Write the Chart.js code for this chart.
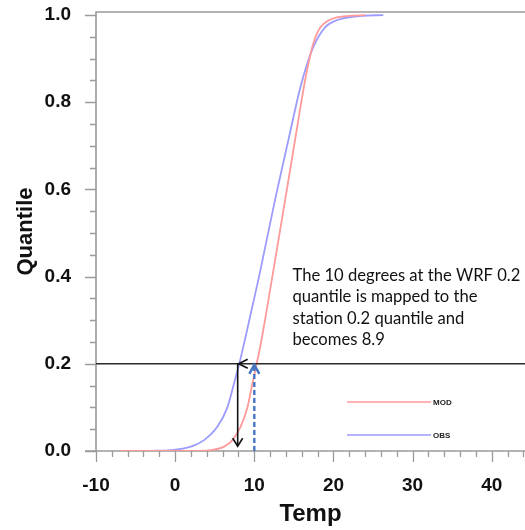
<!DOCTYPE html>
<html><head><meta charset="utf-8">
<script src="https://cdn.jsdelivr.net/npm/chart.js@4.4.0/dist/chart.umd.min.js"></script>
<style>html,body{margin:0;padding:0;background:#fff;overflow:hidden}</style>
</head><body>
<canvas id="c" width="525" height="530"></canvas>
<script>
// ---- data ----
const seriesNames = ['MOD', 'OBS'];
const modTemp     = [-7, 3, 4.5, 6.18, 7.24, 8.28, 9.13, 9.76, 10.3, 10.9, 12.28, 13.96, 15.22, 16.27, 16.8, 17.3, 17.8, 18.4, 19.2, 20.3, 22, 24];
const modQuantile = [0, 0.0005, 0.002, 0.01, 0.025, 0.056, 0.10, 0.155, 0.2, 0.254, 0.4, 0.583, 0.721, 0.836, 0.885, 0.925, 0.953, 0.973, 0.986, 0.994, 0.998, 1.0];
const obsTemp     = [-7, -3, -0.55, 1.98, 3.66, 5.35, 6.6, 7.44, 8.1, 8.8, 10.6, 12.7, 14.4, 15.85, 17.3, 18.2, 19.0, 20.0, 21.1, 23.5, 26.3];
const obsQuantile = [0, 0.0005, 0.002, 0.01, 0.025, 0.056, 0.10, 0.155, 0.2, 0.254, 0.4, 0.583, 0.721, 0.836, 0.92, 0.953, 0.973, 0.985, 0.992, 0.998, 1.0];
const xTickLabels = [-10, 0, 10, 20, 30, 40];
const yTickLabels = [0, 0.2, 0.4, 0.6, 0.8, 1.0];
const wrfValue = 10;        // model temperature being mapped
const stationValue = 7.9;   // where the arrow lands in the picture
const mappedQuantile = 0.2;
const annotationLines = [
  'The 10 degrees at the WRF 0.2',
  'quantile is mapped to the',
  'station 0.2 quantile and',
  'becomes 8.9'
];

const MOD_COLOR = '#ff9a9a';
const OBS_COLOR = '#9c9cff';
const AXIS_GREY = '#9a9a9a';
const FONT = "'Liberation Sans', Arial, Helvetica, sans-serif";

function chevron(ctx, tx, ty, dir, len, half) {
  const [dx, dy] = dir;
  const bx = tx - dx * len, by = ty - dy * len;
  const nx = -dy * half, ny = dx * half;
  ctx.beginPath();
  ctx.moveTo(bx + nx, by + ny);
  ctx.lineTo(tx, ty);
  ctx.lineTo(bx - nx, by - ny);
  ctx.stroke();
}

const frameAndTicks = {
  id: 'frameAndTicks',
  beforeDatasetsDraw(chart) {
    const {ctx, chartArea: a, scales: {x, y}} = chart;
    ctx.save();
    ctx.strokeStyle = AXIS_GREY;
    ctx.lineWidth = 1.6;
    ctx.beginPath();
    ctx.moveTo(a.left, a.bottom); ctx.lineTo(a.left, a.top); ctx.lineTo(a.right + 5, a.top);
    ctx.moveTo(a.left - 11, a.bottom); ctx.lineTo(a.right + 5, a.bottom);
    ctx.stroke();
    ctx.lineWidth = 1.3;
    ctx.beginPath();
    for (let i = 0; i <= 20; i++) {
      const v = i * 0.05;
      const major = i % 4 === 0;
      const py = Math.round(y.getPixelForValue(v)) + 0.5;
      ctx.moveTo(a.left - (major ? 11 : 6), py); ctx.lineTo(a.left, py);
    }
    for (let i = -5; i <= 22; i++) {
      const v = i * 2;
      const major = v % 10 === 0;
      const px = Math.round(x.getPixelForValue(v)) + 0.5;
      if (px > a.right + 2) continue;
      ctx.moveTo(px, a.bottom); ctx.lineTo(px, a.bottom + (major ? 11 : 6));
    }
    ctx.stroke();
    ctx.restore();
  },
  afterDatasetsDraw(chart) {
    const {ctx, chartArea: a, scales: {x, y}} = chart;
    const pxW = x.getPixelForValue(wrfValue);
    const pxS = x.getPixelForValue(stationValue);
    const pyQ = y.getPixelForValue(mappedQuantile);
    const py0 = y.getPixelForValue(0);
    ctx.save();
    ctx.strokeStyle = '#2a2a2a';
    ctx.lineWidth = 1.6;
    ctx.beginPath(); ctx.moveTo(a.left, pyQ); ctx.lineTo(a.right + 5, pyQ); ctx.stroke();
    ctx.strokeStyle = '#4676c2';
    ctx.lineWidth = 2.4;
    ctx.setLineDash([5, 3]);
    ctx.beginPath(); ctx.moveTo(pxW, py0); ctx.lineTo(pxW, pyQ + 3); ctx.stroke();
    ctx.setLineDash([]);
    chevron(ctx, pxW, pyQ + 1, [0, -1], 9, 5);
    ctx.strokeStyle = '#111';
    ctx.lineWidth = 1.6;
    chevron(ctx, pxS + 1, pyQ, [-1, 0], 9, 4.5);
    ctx.beginPath(); ctx.moveTo(pxS, pyQ); ctx.lineTo(pxS, y.getPixelForValue(0.011)); ctx.stroke();
    chevron(ctx, pxS, y.getPixelForValue(0.011), [0, 1], 8, 5);

    const leg = [[MOD_COLOR, seriesNames[0], 402], [OBS_COLOR, seriesNames[1], 435]];
    ctx.lineWidth = 1.5;
    ctx.font = "bold 8px " + FONT;
    ctx.textBaseline = 'middle';
    ctx.fillStyle = '#222';
    for (const [col, name, ly] of leg) {
      ctx.strokeStyle = col;
      ctx.beginPath(); ctx.moveTo(347, ly); ctx.lineTo(431, ly); ctx.stroke();
      ctx.fillText(name, 433, ly + 0.5);
    }

    ctx.font = "16px Lato, 'Open Sans', sans-serif";
    const w = ctx.measureText(annotationLines[0]).width;
    const size = 16 * 228 / w;
    ctx.font = size.toFixed(2) + "px Lato, 'Open Sans', sans-serif";
    ctx.fillStyle = '#111';
    ctx.textBaseline = 'alphabetic';
    const base = [281, 302.3, 323.5, 344.7];
    annotationLines.forEach((t, i) => ctx.fillText(t, 292.5, base[i]));
    ctx.restore();
  }
};

new Chart(document.getElementById('c'), {
  type: 'line',
  data: {
    datasets: [
      { label: seriesNames[0], data: modTemp.map((t, i) => ({x: t, y: modQuantile[i]})),
        borderColor: MOD_COLOR, borderWidth: 1.8, pointRadius: 0, cubicInterpolationMode: 'monotone', fill: false },
      { label: seriesNames[1], data: obsTemp.map((t, i) => ({x: t, y: obsQuantile[i]})),
        borderColor: OBS_COLOR, borderWidth: 1.8, pointRadius: 0, cubicInterpolationMode: 'monotone', fill: false }
    ]
  },
  options: {
    responsive: false,
    animation: false,
    devicePixelRatio: 1,
    layout: { padding: { top: 12, right: 0, left: 0, bottom: 0 } },
    plugins: { legend: { display: false }, tooltip: { enabled: false } },
    scales: {
      x: {
        type: 'linear', min: -10, max: 44.2,
        grid: { display: false, drawTicks: true, tickLength: 23 }, border: { display: false },
        afterBuildTicks: s => { s.ticks = xTickLabels.map(v => ({value: v})); },
        afterFit: s => { s.height = 79; },
        ticks: { padding: 0, maxRotation: 0, color: '#111', font: { family: FONT, size: 19, weight: 'bold' },
                 callback: v => String(v) },
        title: { display: true, text: 'Temp', color: '#111', padding: { top: 0, bottom: 1 },
                 font: { family: FONT, size: 24, weight: 'bold' } }
      },
      y: {
        type: 'linear', min: 0, max: 1.007,
        grid: { display: false, drawTicks: true, tickLength: 25 }, border: { display: false },
        afterBuildTicks: s => { s.ticks = yTickLabels.map(v => ({value: v})); },
        afterFit: s => { s.width = 96; },
        ticks: { padding: 0, color: '#111', font: { family: FONT, size: 19, weight: 'bold' },
                 callback: v => Number(v).toFixed(1) },
        title: { display: true, text: 'Quantile', color: '#111', padding: { top: 13, bottom: 0 },
                 font: { family: FONT, size: 22, weight: 'bold' } }
      }
    }
  },
  plugins: [frameAndTicks]
});
</script>
</body></html>
